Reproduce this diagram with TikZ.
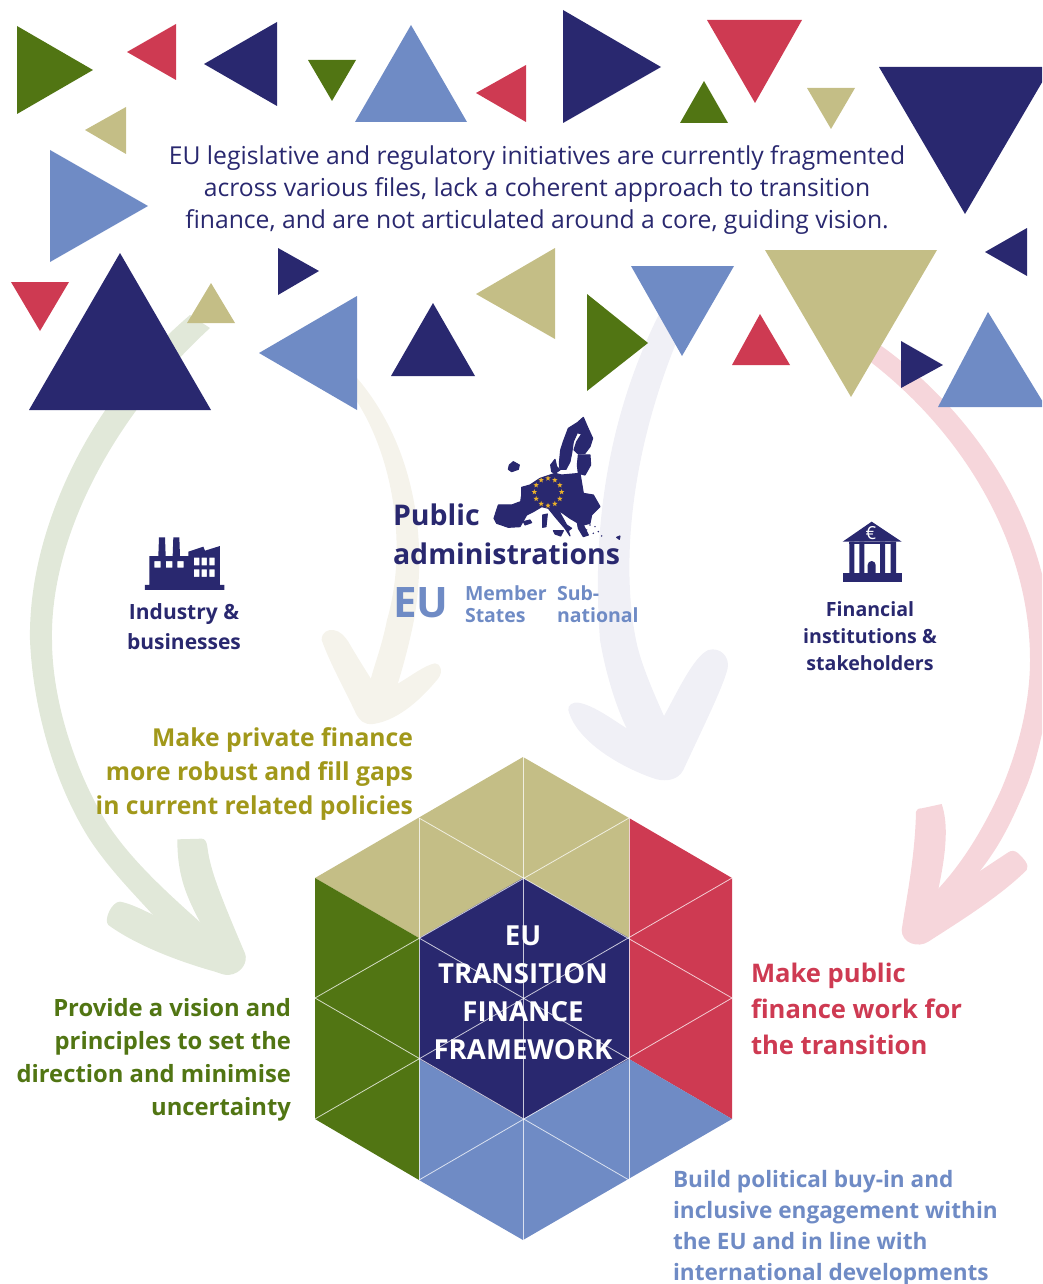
\documentclass[tikz,border=0pt]{standalone}
\usepackage{fontspec}
\setmainfont{Open Sans}
\definecolor{navy}{HTML}{29286F}
\definecolor{ublue}{HTML}{6F8BC5}
\definecolor{ured}{HTML}{CE3A52}
\definecolor{ugreen}{HTML}{517513}
\definecolor{utan}{HTML}{C4BE86}
\definecolor{darktan}{HTML}{A1981A}
\definecolor{gold}{HTML}{E9B02A}
\definecolor{palegreen}{HTML}{E1E8D9}
\definecolor{paletan}{HTML}{F5F3EB}
\definecolor{palelav}{HTML}{F0F0F6}
\definecolor{palepink}{HTML}{F6D6DB}
\tikzset{
  third/.style={x=.3333pt,y=-.3333pt},
  grid/.style={draw=white,draw opacity=.75,line width=.8pt},
  lab/.style={inner sep=0pt,outer sep=0pt,font=\bfseries},
  land/.style={fill=navy,draw=navy,line width=1.1pt,line join=round},
}
\newcommand{\fs}[2]{\fontsize{#1}{#2}\selectfont}
\begin{document}
\begin{tikzpicture}[x=1pt,y=-1pt]
\useasboundingbox (0,0) rectangle (1042,1284);
\clip (0,0) rectangle (1042,1284);
% sweeping arrows: shafts
\fill[palegreen] (190,315) .. controls (90,400) and (28,530) .. (30,640) .. controls (33,710) and (55,785) .. (90,840) .. controls (110,870) and (135,895) .. (153,915) -- (160,925) -- (205,932) -- (201,923) .. controls (170,895) and (130,860) .. (105,820) .. controls (75,770) and (52,700) .. (52,640) .. controls (50,540) and (110,420) .. (210,328) -- cycle;
\fill[paletan] (345,385) .. controls (390,440) and (410,540) .. (387,620) .. controls (382,645) and (376,660) .. (371,678) -- (373,690) -- (392,695) -- (398,683) .. controls (405,660) and (410,640) .. (414,620) .. controls (430,530) and (410,430) .. (345,365) -- cycle;
\fill[palelav] (672,290) .. controls (615,390) and (590,510) .. (600,640) .. controls (605,670) and (615,705) .. (627,729) -- (635,745) -- (660,735) -- (664,716) .. controls (650,685) and (640,660) .. (636,640) .. controls (620,560) and (630,430) .. (700,290) -- cycle;
\fill[palepink] (880,345) .. controls (985,420) and (1055,540) .. (1052,660) .. controls (1050,700) and (1040,755) .. (1025,790) .. controls (1010,825) and (1000,845) .. (980,871) -- (965,890) -- (930,900) -- (938,889) .. controls (965,860) and (985,825) .. (1001,790) .. controls (1020,745) and (1030,700) .. (1030,660) .. controls (1030,540) and (960,430) .. (868,360) -- cycle;
% sweeping arrows: heads
\begin{scope}[shift={(90,820)},third]
\fill[palegreen] (262,58) -- (335,56) .. controls (345,56) and (350,65) .. (352,80) .. controls (360,140) and (375,190) .. (465,400) .. controls (475,425) and (455,462) .. (415,465) .. controls (400,465) and (390,460) .. (375,455) .. controls (250,420) and (130,370) .. (55,315) .. controls (40,300) and (65,245) .. (90,245) .. controls (120,250) and (160,270) .. (190,285) -- (332,310) .. controls (290,230) and (262,170) .. (262,58) -- cycle;
\end{scope}
\begin{scope}[shift={(310,620)},third]
\fill[paletan] (35,60) .. controls (35,35) and (55,28) .. (70,30) .. controls (90,32) and (105,50) .. (115,65) .. controls (135,100) and (160,140) .. (182,175) -- (265,190) .. controls (300,170) and (345,135) .. (375,130) .. controls (392,130) and (400,155) .. (385,175) .. controls (340,230) and (270,300) .. (190,312) .. controls (160,315) and (150,300) .. (140,285) .. controls (100,200) and (60,130) .. (35,60) -- cycle;
\end{scope}
\begin{scope}[shift={(560,640)},third]
\fill[palelav] (25,210) .. controls (22,195) and (40,185) .. (55,188) .. controls (100,195) and (160,240) .. (200,265) -- (312,228) .. controls (350,160) and (400,50) .. (445,30) .. controls (480,20) and (510,50) .. (503,85) .. controls (490,140) and (430,260) .. (370,390) .. controls (355,420) and (320,425) .. (290,418) .. controls (200,390) and (50,310) .. (25,210) -- cycle;
\end{scope}
\begin{scope}[shift={(890,790)},third]
\fill[palepink] (78,65) .. controls (80,58) and (85,55) .. (95,55) -- (155,42) .. controls (175,100) and (170,180) .. (145,298) -- (270,243) -- (350,190) .. controls (365,178) and (375,182) .. (385,190) .. controls (400,205) and (420,225) .. (410,240) .. controls (330,320) and (200,400) .. (115,455) .. controls (85,475) and (35,460) .. (35,420) .. controls (50,320) and (75,200) .. (78,65) -- cycle;
\end{scope}
% triangles
\fill[ugreen] (17,26) -- (93,70) -- (17,114) -- cycle;
\fill[ured] (176,24) -- (127,52) -- (176,80) -- cycle;
\fill[navy] (277,22) -- (204,64) -- (277,106) -- cycle;
\fill[ugreen] (308,60) -- (356,60) -- (332,101) -- cycle;
\fill[ublue] (411,25) -- (467,122) -- (355,122) -- cycle;
\fill[ured] (526,65) -- (526,122) -- (476,93) -- cycle;
\fill[navy] (563,10) -- (661,67) -- (563,123) -- cycle;
\fill[ured] (707,20) -- (802,20) -- (755,103) -- cycle;
\fill[ugreen] (704,81) -- (728,123) -- (680,123) -- cycle;
\fill[utan] (807,88) -- (855,88) -- (831,129) -- cycle;
\fill[navy] (879,67) -- (1051,67) -- (965,214) -- cycle;
\fill[utan] (126,107) -- (126,154) -- (85,130) -- cycle;
\fill[ublue] (50,150) -- (148,206) -- (50,262) -- cycle;
\fill[ured] (11,282) -- (69,282) -- (40,331) -- cycle;
\fill[navy] (120,253) -- (211,410) -- (29,410) -- cycle;
\fill[utan] (211,283) -- (235,323) -- (187,323) -- cycle;
\fill[navy] (278,248) -- (319,271) -- (278,295) -- cycle;
\fill[ublue] (357,296) -- (357,410) -- (259,353) -- cycle;
\fill[navy] (433,303) -- (475,376) -- (391,376) -- cycle;
\fill[utan] (555,248) -- (555,339) -- (476,294) -- cycle;
\fill[ugreen] (587,294) -- (648,343) -- (587,391) -- cycle;
\fill[ublue] (631,266) -- (734,266) -- (682,356) -- cycle;
\fill[ured] (760,314) -- (790,365) -- (732,365) -- cycle;
\fill[utan] (765,250) -- (937,250) -- (851,397) -- cycle;
\fill[navy] (901,341) -- (943,365) -- (901,388) -- cycle;
\fill[ublue] (988,312) -- (1046,407) -- (938,407) -- cycle;
\fill[navy] (1027,228) -- (1027,276) -- (985,252) -- cycle;
% hexagon
\fill[utan] (315,878) -- (523,757) -- (629,818) -- (629,938) -- (523,878) -- (419,938) -- cycle;
\fill[ured] (629,818) -- (732,878) -- (732,1119) -- (629,1059) -- cycle;
\fill[ublue] (629,1059) -- (732,1119) -- (523,1240) -- (419,1180) -- (419,1059) -- (523,1119) -- cycle;
\fill[ugreen] (315,878) -- (419,938) -- (419,1180) -- (315,1119) -- cycle;
\fill[navy] (523,878) -- (629,938) -- (629,1059) -- (523,1119) -- (419,1059) -- (419,938) -- cycle;
\draw[grid] (523,757) -- (523,1240);
\draw[grid] (419,818) -- (419,1180);
\draw[grid] (629,818) -- (629,1180);
\draw[grid] (419,818) -- (732,998);
\draw[grid] (629,818) -- (315,998);
\draw[grid] (732,878) -- (315,1119);
\draw[grid] (315,998) -- (629,1180);
\draw[grid] (419,938) -- (629,1059);
\draw[grid] (732,998) -- (419,1180);
% factory icon
\begin{scope}[shift={(120,520)},third]
\fill[navy,even odd rule] (75,195) -- (88,195) -- (88,108) -- (115,108) -- (117,52) -- (135,52) -- (137,108) -- (158,108) -- (160,52) -- (178,52) -- (180,108) -- (205,108) -- (205,95) -- (250,80) -- (255,92) -- (300,78) -- (300,195) -- (313,195) -- (313,210) -- (75,210) -- cycle
 (103,123) rectangle (122,143) (138,123) rectangle (157,143) (172,123) rectangle (191,143)
 (222,113) rectangle (238,136) (245,113) rectangle (261,136) (268,113) rectangle (284,136)
 (222,148) rectangle (238,171) (245,148) rectangle (261,171) (268,148) rectangle (284,171);
\end{scope}
% bank icon
\begin{scope}[shift={(820,510)},third]
\fill[navy] (155,35) -- (245,95) -- (68,95) -- cycle;
\fill[navy] (88,95) rectangle (103,190) (118,95) rectangle (133,190) (180,95) rectangle (195,190) (212,95) rectangle (228,190);
\fill[navy] (88,95) rectangle (228,102);
\fill[navy] (68,190) rectangle (245,215);
\fill[navy] (143,190) -- (143,165) arc[start angle=180,end angle=360,radius=12] -- (167,190) -- cycle;
\end{scope}
\node[lab,white,font=\fs{18}{18}] (euro) at (871,533) {€};
% EU map
\begin{scope}[shift={(490,410)},third]
\path[land] (280,22) -- (292,50) -- (308,85) -- (300,110) -- (285,130) -- (265,132) -- (252,120) -- (260,95) -- (275,72) -- (262,68) -- (250,95) -- (245,130) -- (240,155) -- (228,178) -- (210,178) -- (208,160) -- (212,120) -- (220,95) -- (235,55) -- (262,38) -- cycle;
\path[land] (265,135) -- (300,135) -- (302,165) -- (285,195) -- (265,190) -- (262,165) -- cycle;
\path[land] (182,165) -- (195,148) -- (200,170) -- (210,180) -- (195,190) -- (185,185) -- cycle;
\path[land] (58,165) -- (70,155) -- (88,165) -- (85,178) -- (65,185) -- (55,178) -- cycle;
\path[land] (95,232) -- (120,225) -- (150,205) -- (195,190) -- (215,195) -- (270,190) -- (280,250) -- (310,255) -- (330,290) -- (305,315) -- (300,340) -- (280,345) -- (295,375) -- (280,380) -- (265,355) -- (262,338) -- (240,325) -- (205,300) -- (230,345) -- (245,355) -- (235,362) -- (240,378) -- (225,355) -- (195,320) -- (175,295) -- (155,290) -- (130,305) -- (110,315) -- (90,350) -- (55,352) -- (20,340) -- (12,325) -- (25,285) -- (65,285) -- (92,275) -- (95,255) -- cycle;
\path[land] (158,315) -- (172,312) -- (168,350) -- (158,352) -- cycle;
\path[land] (190,362) -- (220,362) -- (212,378) -- (195,372) -- cycle;
\path[land] (100,335) -- (120,330) -- (125,338) -- (105,345) -- cycle;
\path[land] (380,382) -- (390,378) -- (388,388) -- cycle;
\foreach \p in {(300,345),(315,350),(325,365),(310,370),(335,378),(290,360)} \fill[navy] \p circle[radius=2.5];
\foreach \a in {0,30,...,330}
  \fill[gold] ([shift={(\a:41)}]174,246) +(-90:8.5) -- +(-54:3.5) -- +(-18:8.5) -- +(18:3.5) -- +(54:8.5) -- +(90:3.5) -- +(126:8.5) -- +(162:3.5) -- +(198:8.5) -- +(234:3.5) -- cycle;
\end{scope}
% texts
\node[inner sep=0pt,navy,align=center,font=\fs{24.7}{32}] (intro) at (537,190) {EU legislative and regulatory initiatives are currently fragmented\\across various files, lack a coherent approach to transition\\finance, and are not articulated around a core, guiding vision.};
\node[lab,navy,align=center,font=\bfseries\fs{21}{30}] (ind) at (184,626.5) {Industry \&\\businesses};
\node[lab,navy,align=left,anchor=west,font=\bfseries\fs{28.5}{39}] (pub) at (393,534) {Public\\administrations};
\node[lab,ublue,anchor=base west,font=\bfseries\fs{42}{42}] (eu) at (393,617) {EU};
\node[lab,ublue,align=left,anchor=west,font=\bfseries\fs{19.5}{22}] (ms) at (465,604) {Member\\States};
\node[lab,ublue,align=left,anchor=west,font=\bfseries\fs{19.5}{22}] (sn) at (557,604) {Sub-\\national};
\node[lab,navy,align=center,font=\bfseries\fs{19.6}{27}] (fin) at (870,636) {Financial\\institutions \&\\stakeholders};
\node[lab,darktan,align=right,anchor=east,font=\bfseries\fs{24.7}{34}] (priv) at (413,774) {Make private finance\\more robust and fill gaps\\in current related policies};
\node[lab,ugreen,align=right,anchor=east,font=\bfseries\fs{23.8}{33}] (vis) at (291,1060) {Provide a vision and\\principles to set the\\direction and minimise\\uncertainty};
\node[lab,ured,align=left,anchor=west,font=\bfseries\fs{25.6}{36}] (pubf) at (751,1009) {Make public\\finance work for\\the transition};
\node[lab,ublue,align=left,anchor=west,font=\bfseries\fs{22.6}{31}] (build) at (673,1228) {Build political buy-in and\\inclusive engagement within\\the EU and in line with\\international developments};
\node[lab,white,align=center,font=\bfseries\fs{27.6}{38}] (frame) at (523,993) {EU\\TRANSITION\\FINANCE\\FRAMEWORK};
\end{tikzpicture}
\end{document}
